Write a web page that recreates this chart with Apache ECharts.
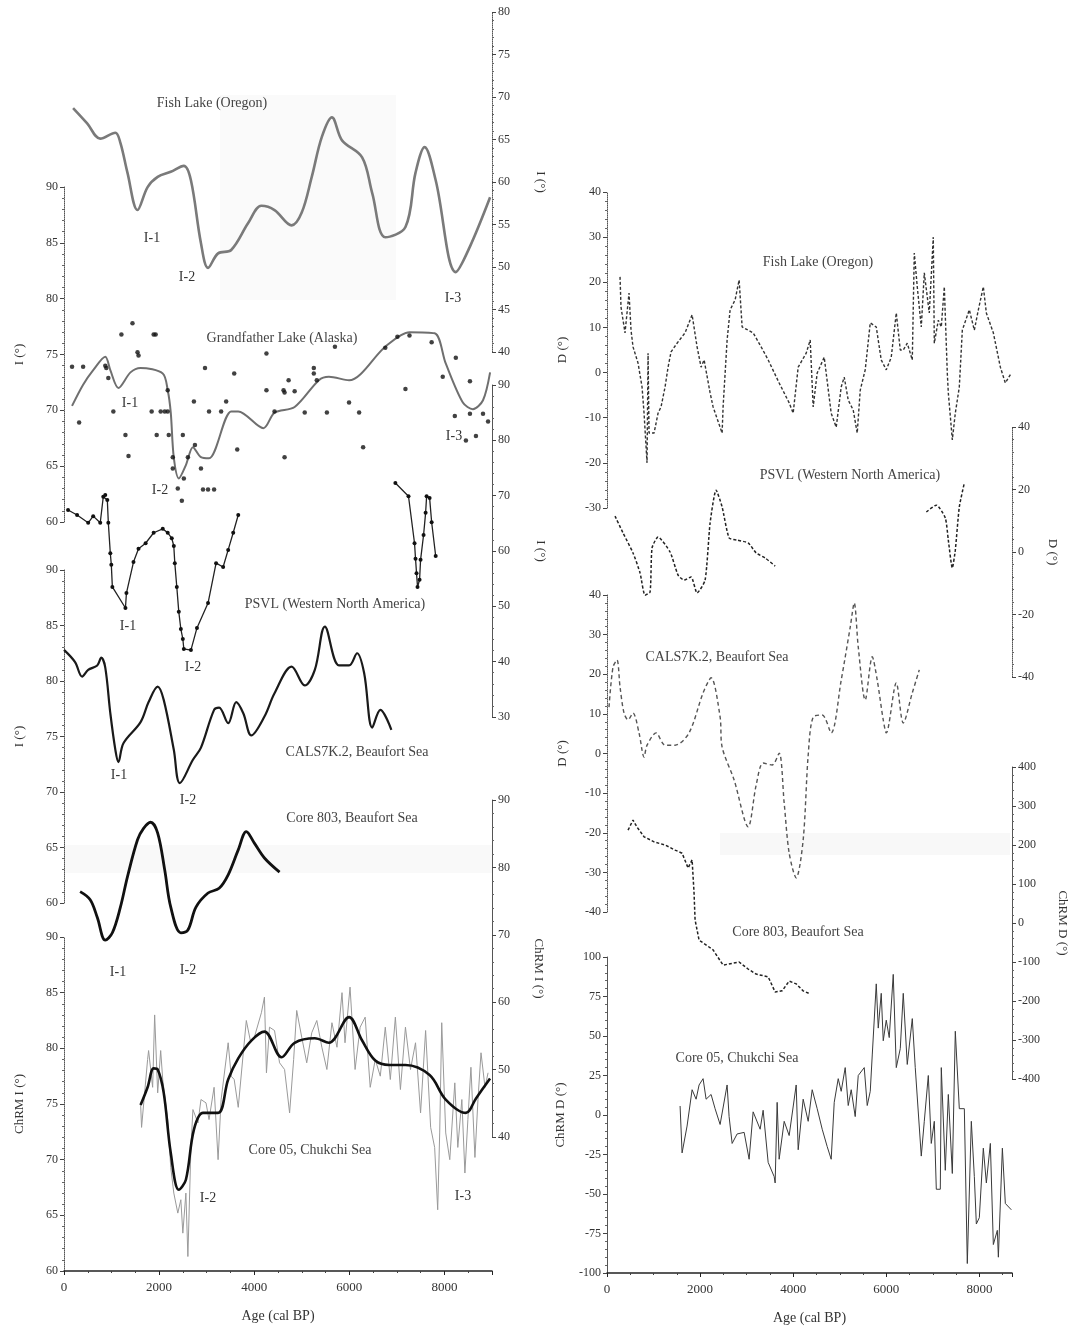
<!DOCTYPE html>
<html>
<head>
<meta charset="utf-8">
<script src="https://cdn.jsdelivr.net/npm/echarts/dist/echarts.min.js"></script>
<style>
html,body{margin:0;padding:0;background:#fff;}
#chart{width:1075px;height:1332px;}
</style>
</head>
<body>
<div id="chart"></div>
<script>
// ---------- Inclination records (left column) ----------
// Fish Lake (Oregon), smoothed inclination
const fishIAge = [191,487,762,1080,1186,1334,1546,1758,1970,2245,2520,2669,2880,3029,3240,3516,3876,4151,4427,4787,4999,5210,5422,5634,5846,6269,6481,6757,7180,7392,7583,7816,8240,8536,8960];
const fishIVal = [68.7,66.9,65.1,65.8,64.6,61.1,56.7,59.4,60.6,61.2,61.9,60.2,52.8,49.9,51.6,52.0,55.2,57.2,56.7,54.9,56.4,60.6,65.3,67.6,64.9,62.9,58.7,53.5,54.7,61.1,64.1,60.2,49.4,52.4,58.2];

// Grandfather Lake (Alaska), smoothed curve and individual measurements
const gfCurveAge = [169,402,614,868,974,1144,1398,1610,2076,2181,2245,2308,2414,2563,2711,2880,3050,3516,3664,4193,4427,4850,5359,5570,5994,6756,7265,7794,8027,8387,8599,8811,8960];
const gfCurveVal = [70.4,72.3,73.6,74.8,73.6,72.0,73.4,73.8,73.3,71.8,69.8,65.8,63.9,65.1,66.7,65.8,65.7,69.9,69.9,68.4,69.8,70.3,72.7,73.0,72.7,75.7,77.0,76.9,74.2,70.7,70.1,70.9,73.4];
const gfDotAge = [169,318,402,868,890,932,1038,1207,1292,1356,1440,1546,1567,1843,1885,1927,1949,2033,2118,2181,2181,2203,2287,2287,2393,2478,2499,2520,2605,2732,2753,2880,2923,3029,3156,2965,3050,3304,3410,3579,3643,4257,4257,4427,4617,4638,4638,4723,4850,5062,5253,5253,5316,5528,5697,5994,6206,6290,6756,7011,7180,7265,7731,7964,8218,8239,8451,8536,8536,8662,8811,8917];
const gfDotVal = [73.9,68.9,73.9,74.0,73.8,72.9,69.9,76.8,67.8,65.9,77.8,75.2,74.9,69.9,76.8,76.8,67.8,69.9,69.9,69.9,71.8,67.8,65.8,64.8,63.0,61.9,67.8,63.9,65.8,70.8,66.9,64.8,62.9,62.9,62.9,73.8,69.9,69.9,70.8,73.3,66.5,75.1,71.8,69.9,71.8,71.6,65.8,72.7,71.7,69.8,73.8,73.3,72.7,69.8,75.7,70.7,69.8,66.7,75.6,76.6,71.9,76.7,76.1,73.0,69.5,74.7,67.3,72.6,69.7,67.7,69.7,69.0];

// PSVL (Western North America), inclination, two segments
const psvlIAgeA = [85,275,508,614,762,826,868,911,932,974,995,1017,1292,1313,1461,1567,1716,1885,2076,2181,2266,2309,2330,2372,2414,2457,2499,2520,2669,2796,3029,3198,3346,3452,3558,3664];
const psvlIValA = [67.4,66.5,65.1,66.3,65.1,69.8,70.1,69.2,65.1,59.6,57.5,53.5,49.7,52.4,58.0,60.4,61.4,63.3,64.0,63.3,62.3,60.9,57.8,53.5,49.0,45.9,44.1,42.3,42.1,46.1,50.6,57.8,57.1,60.2,63.3,66.5];
const psvlIAgeB = [6968,7244,7371,7392,7413,7434,7477,7498,7561,7604,7625,7688,7731,7816];
const psvlIValB = [72.3,69.9,61.4,58.6,56.0,53.5,54.8,58.4,62.9,66.9,69.9,69.6,65.2,59.1];

// CALS7K.2 model, Beaufort Sea, inclination
const calsIAge = [0,233,381,508,699,784,868,974,1080,1144,1250,1610,1779,1970,2097,2309,2436,2711,2880,3156,3262,3452,3622,3770,3939,4215,4427,4787,5062,5274,5486,5782,5994,6163,6312,6481,6651,6884];
const calsIVal = [82.8,81.7,80.4,81.0,81.4,82.1,81.2,77.1,73.8,72.7,74.4,76.3,78.1,79.5,78.3,73.8,70.8,72.9,74.0,77.4,77.6,76.2,78.1,77.1,75.1,76.8,78.9,81.3,79.6,81.0,84.9,81.4,81.4,82.5,80.7,75.8,77.4,75.6];

// Core 803, Beaufort Sea, ChRM inclination
const c803IAge = [339,551,699,868,1017,1186,1334,1546,1673,1821,1970,2118,2245,2457,2605,2775,3029,3262,3452,3664,3834,4003,4215,4533];
const c803IVal = [76.4,75.2,72.6,69.2,70.3,74.1,78.6,84.1,85.8,86.7,85.1,79.6,74.1,70.3,70.7,74.1,76.2,76.9,78.9,82.6,85.3,83.6,81.4,79.3];

// Core 05, Chukchi Sea, ChRM inclination: smoothed curve and raw measurements
const c05ISmAge = [1610,1758,1885,1970,2097,2245,2414,2563,2732,2923,3240,3452,3664,3939,4215,4575,4850,5274,5570,5994,6269,6545,6841,7180,7688,8027,8451,8663,8959];
const c05ISmVal = [74.9,76.5,78.2,78.1,76.0,70.6,67.3,68.2,72.7,74.2,74.2,77.2,79.1,80.7,81.5,79.2,80.5,80.9,80.5,82.8,80.7,78.9,78.5,78.5,77.6,75.4,74.2,75.5,77.3];
const c05IRawAge = [1610,1631,1758,1779,1864,1906,1970,2033,2076,2181,2245,2309,2393,2457,2499,2563,2605,2669,2711,2817,2880,2986,3050,3156,3240,3304,3452,3516,3579,3664,3770,3834,3918,4003,4151,4215,4257,4321,4427,4533,4638,4744,4829,4893,4999,5104,5210,5316,5422,5528,5634,5740,5846,5909,6015,6121,6227,6333,6439,6545,6651,6756,6862,6968,7074,7180,7286,7392,7498,7604,7710,7794,7858,7900,7943,8027,8112,8218,8281,8366,8430,8493,8557,8641,8705,8769,8853,8917];
const c05IRawVal = [75.1,72.9,79.0,79.8,76.5,83.0,76.0,79.8,77.2,73.6,69.3,67.0,65.2,66.4,63.4,67.0,61.3,71.1,74.5,73.3,75.4,75.1,73.6,76.5,70.0,75.4,80.5,77.5,77.2,74.7,79.6,82.5,80.7,81.0,83.2,84.6,77.8,81.9,81.6,78.7,78.1,74.2,79.0,83.4,81.0,78.7,81.4,82.5,80.1,78.1,82.3,80.1,85.0,80.5,85.5,78.1,81.9,82.8,76.5,79.0,77.5,81.9,77.2,82.8,76.3,81.9,78.1,80.5,74.2,81.6,72.9,71.1,65.5,72.4,82.3,72.4,70.0,76.9,71.1,75.4,68.8,73.6,78.3,70.2,75.4,79.6,76.5,77.8];

// ---------- Declination records (right column) ----------
const fishDAge = [280,301,387,473,516,559,667,753,796,860,882,903,1011,1097,1161,1247,1312,1376,1505,1677,1828,1935,2021,2086,2215,2279,2473,2494,2580,2645,2752,2838,2903,3139,3311,3462,3698,3913,3999,4107,4279,4365,4429,4515,4666,4816,4924,5031,5096,5182,5289,5375,5440,5547,5655,5784,5891,5999,6106,6214,6300,6364,6450,6558,6601,6665,6751,6816,6923,7009,7031,7117,7181,7246,7310,7332,7418,7482,7568,7633,7783,7891,7977,8084,8149,8299,8450,8557,8686];
const fishDVal = [21.2,14.5,8.8,17.6,9.4,5.7,2.1,-3.2,-9.0,-20.0,4.3,-13.4,-13.4,-9.0,-7.6,-3.2,1.2,4.6,6.5,8.8,12.8,5.7,1.2,2.8,-4.5,-7.6,-13.4,-7.6,7.2,13.9,16.1,20.5,10.1,8.8,5.7,2.8,-2.3,-6.7,-9.0,1.2,4.3,7.2,-7.6,-0.1,3.4,-9.0,-12.1,-3.2,-1.0,-6.1,-8.3,-13.4,-3.9,0.6,11.0,10.1,2.8,0.6,3.4,13.2,5.0,5.0,6.5,2.8,26.5,19.0,10.1,22.1,13.2,30.0,6.5,11.6,10.1,19.0,-0.1,-4.5,-14.9,-9.0,-3.2,9.4,13.9,9.4,13.9,19.0,13.2,8.8,1.2,-2.3,-0.1];

const psvlDAgeA = [172,344,559,710,817,925,968,1097,1355,1527,1656,1806,1935,2107,2215,2344,2473,2623,2795,3032,3204,3397,3612];
const psvlDValA = [11.5,6.1,-0.3,-6.7,-13.8,-12.8,1.3,4.8,0.0,-7.4,-9.0,-8.0,-13.1,-9.0,9.3,19.8,14.4,4.5,3.8,2.9,-0.3,-1.9,-4.5];
const psvlDAgeB = [6859,7074,7267,7332,7418,7482,7568,7676];
const psvlDValB = [12.8,15.0,10.9,3.8,-5.1,0.6,14.4,22.1];

const calsDAge = [43,129,215,280,366,452,559,688,796,860,1054,1247,1462,1763,2064,2236,2430,2473,2731,3032,3204,3354,3548,3698,3806,3913,4064,4214,4322,4429,4623,4816,5031,5225,5311,5397,5547,5698,5805,5934,5999,6214,6364,6558,6708];
const calsDVal = [11.7,21.8,23.6,16.8,10.2,8.5,10.2,5.2,-0.9,2.1,5.2,2.1,2.1,5.2,15.3,19.1,9.2,1.6,-6.7,-18.5,-8.0,-2.4,-2.9,0.1,-12.5,-25.1,-31.4,-21.8,-0.4,9.2,9.7,5.2,18.5,31.9,38.0,26.9,13.5,24.4,18.5,8.5,5.2,17.8,7.7,15.3,21.1];

const c803DAge = [452,559,645,796,1011,1247,1462,1613,1742,1828,1870,1892,1978,2064,2279,2494,2838,3032,3204,3462,3612,3763,3913,4064,4214,4365];
const c803DVal = [238,264,246,221,208,200,187,179,141,162,77,8,-44,-51,-69,-108,-100,-118,-131,-138,-177,-174,-149,-156,-174,-182];

const c05DAge = [1570,1613,1720,1828,1914,1978,2064,2129,2236,2322,2430,2580,2623,2688,2795,2946,3053,3139,3290,3354,3462,3591,3612,3655,3698,3806,3913,4064,4107,4214,4322,4408,4515,4623,4730,4816,4881,4967,5031,5117,5182,5246,5332,5397,5526,5590,5655,5698,5784,5827,5891,5934,5999,6063,6149,6214,6300,6364,6450,6558,6622,6751,6816,6902,6966,7031,7074,7160,7181,7267,7332,7418,7482,7568,7676,7740,7826,7891,7934,7998,8084,8149,8235,8299,8385,8407,8493,8557,8686];
const c05DVal = [5.7,-24,-7,16,10,19,23,10,13,4,-6,19,-1,-18,-12,-11,-28,2,-9,3,-30,-39,-43,8,-28,-4,-13,19,-22,10,-4,16,4,-9,-20,-28,8,23,15,30,6,16,-1,25,30,6,15,38,83,55,77,47,60,49,89,30,42,77,32,61,30,-26,-4,25,-18,-4,-47,-47,30,-35,13,-37,53,4,4,-94,-4,-39,-69,-65,-21,-43,-18,-82,-73,-90,-21,-56,-60];

// Tick labels of the age axis
const ageTicks = [0, 2000, 4000, 6000, 8000];

// ---------- Layout ----------
const FONT = '"Liberation Serif","DejaVu Serif",serif';
const INK = '#333';
const LEFT_COL = {left: 64, width: 428, xmax: 9000};
const RIGHT_COL = {left: 607, width: 405, xmax: 8700};

// One grid per record, each with its own vertical axis
const panels = [
  {col: LEFT_COL, top: 12, height: 340, min: 40, max: 80, interval: 5, pos: 'right', name: 'I (°)', gap: 42, line: 'dotted'},
  {col: LEFT_COL, top: 187, height: 335, min: 60, max: 90, interval: 5, pos: 'left', name: 'I (°)', gap: 38, line: 'dotted'},
  {col: LEFT_COL, top: 385, height: 332, min: 30, max: 90, interval: 10, pos: 'right', name: 'I (°)', gap: 42, line: 'solid'},
  {col: LEFT_COL, top: 570, height: 333, min: 60, max: 90, interval: 5, pos: 'left', name: 'I (°)', gap: 38, line: 'dotted'},
  {col: LEFT_COL, top: 800, height: 337, min: 40, max: 90, interval: 10, pos: 'right', name: 'ChRM I (°)', gap: 40, line: 'solid'},
  {col: LEFT_COL, top: 937, height: 334, min: 60, max: 90, interval: 5, pos: 'left', name: 'ChRM I (°)', gap: 38, line: 'dotted', bottom: true},
  {col: RIGHT_COL, top: 192, height: 316, min: -30, max: 40, interval: 10, pos: 'left', name: 'D (°)', gap: 38, line: 'dotted'},
  {col: RIGHT_COL, top: 427, height: 250, min: -40, max: 40, interval: 20, pos: 'right', name: 'D (°)', gap: 34, line: 'dotted'},
  {col: RIGHT_COL, top: 595, height: 317, min: -40, max: 40, interval: 10, pos: 'left', name: 'D (°)', gap: 38, line: 'dotted'},
  {col: RIGHT_COL, top: 767, height: 312, min: -400, max: 400, interval: 100, pos: 'right', name: 'ChRM D (°)', gap: 44, line: 'solid'},
  {col: RIGHT_COL, top: 957, height: 316, min: -100, max: 100, interval: 25, pos: 'left', name: 'ChRM D (°)', gap: 40, line: 'solid', bottom: true}
];

const grid = [], xAxis = [], yAxis = [];
panels.forEach((p, i) => {
  grid.push({left: p.col.left, width: p.col.width, top: p.top, height: p.height, containLabel: false});
  xAxis.push({
    type: 'value', gridIndex: i, min: 0, max: p.col.xmax, interval: 2000,
    show: !!p.bottom,
    name: 'Age (cal BP)', nameLocation: 'middle', nameGap: 38,
    nameTextStyle: {fontFamily: FONT, fontSize: 14, color: INK},
    axisLine: {show: true, onZero: false, lineStyle: {color: '#222', width: 1.5}},
    axisTick: {show: true, length: 4, lineStyle: {color: '#222'}},
    minorTick: {show: true, splitNumber: 4, length: 2, lineStyle: {color: '#444'}},
    axisLabel: {fontFamily: FONT, fontSize: 13, color: INK, margin: 10,
      formatter: v => ageTicks.indexOf(v) >= 0 ? String(v) : ''},
    splitLine: {show: false}
  });
  yAxis.push({
    type: 'value', gridIndex: i, min: p.min, max: p.max, interval: p.interval,
    position: p.pos,
    name: p.name, nameLocation: 'middle', nameGap: p.gap, nameRotate: p.pos === 'left' ? 90 : -90,
    nameTextStyle: {fontFamily: FONT, fontSize: 13, color: INK},
    axisLine: {show: true, onZero: false, lineStyle: {color: '#555', width: 1, type: p.line}},
    axisTick: {show: true, length: 4, lineStyle: {color: '#444'}},
    minorTick: {show: true, splitNumber: 5, length: 2, lineStyle: {color: '#666'}},
    axisLabel: {fontFamily: FONT, fontSize: 12, color: INK, margin: 6},
    splitLine: {show: false}
  });
});

const pairs = (a, v) => a.map((x, k) => [x, v[k]]);

function line(idx, age, val, opt) {
  return Object.assign({
    type: 'line', xAxisIndex: idx, yAxisIndex: idx, data: pairs(age, val),
    showSymbol: false, silent: true, animation: false, z: 3
  }, opt);
}

const series = [
  // Fish Lake I
  line(0, fishIAge, fishIVal, {smooth: 0.35, lineStyle: {color: '#7a7a7a', width: 2.6}}),
  // Grandfather Lake I
  line(1, gfCurveAge, gfCurveVal, {smooth: 0.3, lineStyle: {color: '#6f6f6f', width: 2}}),
  {type: 'scatter', xAxisIndex: 1, yAxisIndex: 1, data: pairs(gfDotAge, gfDotVal), symbolSize: 4.5,
    itemStyle: {color: '#111'}, silent: true, animation: false, z: 4},
  // PSVL I
  line(2, psvlIAgeA, psvlIValA, {showSymbol: true, symbol: 'circle', symbolSize: 4,
    itemStyle: {color: '#111'}, lineStyle: {color: '#222', width: 1.3}}),
  line(2, psvlIAgeB, psvlIValB, {showSymbol: true, symbol: 'circle', symbolSize: 4,
    itemStyle: {color: '#111'}, lineStyle: {color: '#222', width: 1.3}}),
  // CALS7K.2 I
  line(3, calsIAge, calsIVal, {smooth: 0.35, lineStyle: {color: '#1a1a1a', width: 2.2}}),
  // Core 803 I
  line(4, c803IAge, c803IVal, {smooth: 0.35, lineStyle: {color: '#111', width: 2.8}}),
  // Core 05 I
  line(5, c05IRawAge, c05IRawVal, {lineStyle: {color: '#9a9a9a', width: 1}, z: 2}),
  line(5, c05ISmAge, c05ISmVal, {smooth: 0.35, lineStyle: {color: '#111', width: 2.6}}),
  // Fish Lake D
  line(6, fishDAge, fishDVal, {lineStyle: {color: '#333', width: 1.4, type: [3, 2]}}),
  // PSVL D
  line(7, psvlDAgeA, psvlDValA, {smooth: 0.2, lineStyle: {color: '#222', width: 1.5, type: [3, 2]}}),
  line(7, psvlDAgeB, psvlDValB, {smooth: 0.2, lineStyle: {color: '#222', width: 1.5, type: [3, 2]}}),
  // CALS7K.2 D
  line(8, calsDAge, calsDVal, {smooth: 0.3, lineStyle: {color: '#555', width: 1.4, type: [4, 3]}}),
  // Core 803 D
  line(9, c803DAge, c803DVal, {lineStyle: {color: '#222', width: 1.5, type: [3, 2]}}),
  // Core 05 D
  line(10, c05DAge, c05DVal, {lineStyle: {color: '#3a3a3a', width: 1}})
];

// Record titles and excursion labels
function txt(x, y, s, size, color) {
  return {type: 'text', x: x, y: y, z: 10, silent: true,
    style: {text: s, font: (size || 14) + 'px ' + FONT, fill: color || '#444',
      align: 'center', verticalAlign: 'middle', textAlign: 'center', textVerticalAlign: 'middle'}};
}
// Faint paper tone patches of the printed page
function patch(x, y, w, h, c) {
  return {type: 'rect', shape: {x: x, y: y, width: w, height: h}, z: -10, silent: true,
    style: {fill: c, stroke: null}};
}
const graphic = [
  patch(220, 95, 176, 205, '#fafafa'),
  patch(64, 845, 428, 28, '#f9f9f9'),
  patch(720, 833, 290, 22, '#f8f8f8'),
  txt(212, 103, 'Fish Lake (Oregon)'),
  txt(282, 338, 'Grandfather Lake (Alaska)'),
  txt(335, 604, 'PSVL (Western North America)'),
  txt(357, 752, 'CALS7K.2, Beaufort Sea'),
  txt(352, 818, 'Core 803, Beaufort Sea'),
  txt(310, 1150, 'Core 05, Chukchi Sea'),
  txt(818, 262, 'Fish Lake (Oregon)'),
  txt(850, 475, 'PSVL (Western North America)'),
  txt(717, 657, 'CALS7K.2, Beaufort Sea'),
  txt(798, 932, 'Core 803, Beaufort Sea'),
  txt(737, 1058, 'Core 05, Chukchi Sea'),
  txt(152, 238, 'I-1', 14, '#333'), txt(187, 277, 'I-2', 14, '#333'), txt(453, 298, 'I-3', 14, '#333'),
  txt(130, 403, 'I-1', 14, '#333'), txt(160, 490, 'I-2', 14, '#333'), txt(454, 436, 'I-3', 14, '#333'),
  txt(128, 626, 'I-1', 14, '#333'), txt(193, 667, 'I-2', 14, '#333'),
  txt(119, 775, 'I-1', 14, '#333'), txt(188, 800, 'I-2', 14, '#333'),
  txt(118, 972, 'I-1', 14, '#333'), txt(188, 970, 'I-2', 14, '#333'),
  txt(208, 1198, 'I-2', 14, '#333'), txt(463, 1196, 'I-3', 14, '#333')
];

const chart = echarts.init(document.getElementById('chart'), null, {renderer: 'canvas'});
chart.setOption({
  backgroundColor: '#fff',
  animation: false,
  grid: grid, xAxis: xAxis, yAxis: yAxis,
  series: series,
  graphic: graphic
});
</script>
</body>
</html>
